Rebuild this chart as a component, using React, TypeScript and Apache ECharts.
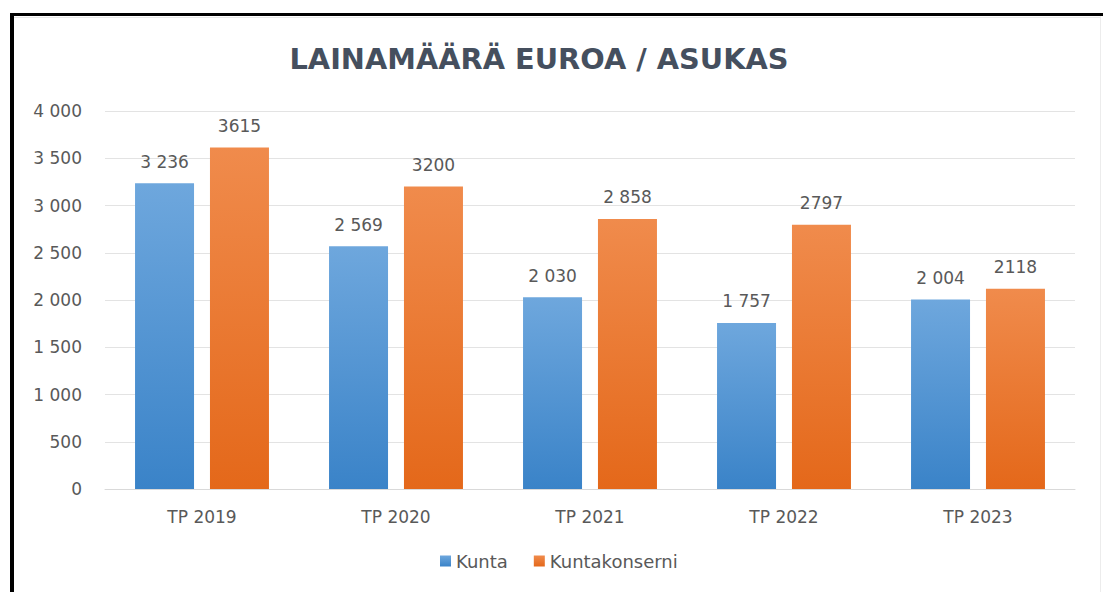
import React, { useEffect, useRef } from "react";
import * as echarts from "echarts";

const categories = ["TP 2019", "TP 2020", "TP 2021", "TP 2022", "TP 2023"];
const kunta = [3236, 2569, 2030, 1757, 2004];
const kuntaLabels = ["3 236", "2 569", "2 030", "1 757", "2 004"];
const konserni = [3615, 3200, 2858, 2797, 2118];
const konserniLabels = ["3615", "3200", "2 858", "2797", "2118"];
const seriesNames = ["Kunta", "Kuntakonserni"];
const titleText = "LAINAMÄÄRÄ EUROA / ASUKAS";

const FONT = "'DejaVu Sans', 'Open Sans', sans-serif";
const TXT = "#595959";

export default function App() {
  const ref = useRef<HTMLDivElement>(null);
  useEffect(() => {
    document.body.style.margin = "0";
    const chart = echarts.init(ref.current!, null, { renderer: "svg" });
    const blue = new echarts.graphic.LinearGradient(0, 0, 0, 1, [
      { offset: 0, color: "#6ea7dd" },
      { offset: 1, color: "#3a83c8" },
    ]);
    const orange = new echarts.graphic.LinearGradient(0, 0, 0, 1, [
      { offset: 0, color: "#f08b4c" },
      { offset: 1, color: "#e4681a" },
    ]);
    chart.setOption({
      animation: false,
      backgroundColor: "#ffffff",
      textStyle: { fontFamily: FONT },
      title: {
        text: titleText,
        left: 534,
        textAlign: "center",
        top: 39,
        textStyle: { fontSize: 28.8, fontWeight: "bold", color: "#454f5e", fontFamily: FONT },
      },
      legend: {
        data: seriesNames,
        left: 435,
        top: 547,
        itemWidth: 11,
        itemHeight: 11,
        itemGap: 26,
        icon: "rect",
        textStyle: { fontSize: 18, color: TXT, fontFamily: FONT },
      },
      grid: { left: 105, right: 28, top: 111, bottom: 103, containLabel: false },
      xAxis: {
        type: "category",
        data: categories,
        axisLine: { lineStyle: { color: "#d9d9d9" } },
        axisTick: { show: false },
        axisLabel: { fontSize: 17, color: TXT, margin: 19, fontFamily: FONT },
      },
      yAxis: {
        type: "value",
        min: 0,
        max: 4000,
        interval: 500,
        axisLine: { show: false },
        axisTick: { show: false },
        splitLine: { lineStyle: { color: "#e3e3e3" } },
        axisLabel: {
          fontSize: 17,
          color: TXT,
          margin: 23,
          fontFamily: FONT,
          formatter: (v: number) => String(v).replace(/\B(?=(\d{3})+(?!\d))/g, " "),
        },
      },
      series: [
        {
          name: seriesNames[0],
          type: "bar",
          data: kunta,
          barWidth: 59,
          barGap: "27%",
          itemStyle: { color: blue },
          label: {
            show: true,
            position: "top",
            distance: 13,
            fontSize: 17,
            color: TXT,
            fontFamily: FONT,
            formatter: (p: any) => kuntaLabels[p.dataIndex],
          },
        },
        {
          name: seriesNames[1],
          type: "bar",
          data: konserni,
          barWidth: 59,
          itemStyle: { color: orange },
          label: {
            show: true,
            position: "top",
            distance: 13,
            fontSize: 17,
            color: TXT,
            fontFamily: FONT,
            formatter: (p: any) => konserniLabels[p.dataIndex],
          },
        },
      ],
      graphic: [
        { type: "rect", shape: { x: 10, y: 13, width: 1093, height: 3 }, style: { fill: "#000" } },
        { type: "rect", shape: { x: 10, y: 13, width: 4, height: 579 }, style: { fill: "#000" } },
        { type: "rect", shape: { x: 14, y: 17, width: 1086, height: 1 }, style: { fill: "#e8e8e8" } },
        { type: "rect", shape: { x: 1100, y: 16, width: 1, height: 576 }, style: { fill: "#ececec" } },
      ],
    });
    return () => chart.dispose();
  }, []);
  return (
    <div
      ref={ref}
      style={{ position: "absolute", left: 0, top: 0, width: 1103, height: 592 }}
    />
  );
}
